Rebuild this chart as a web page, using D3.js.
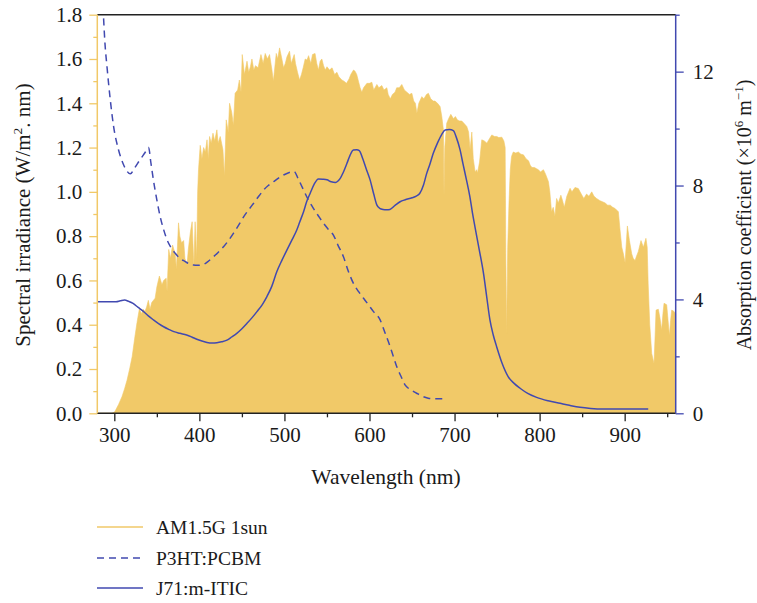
<!DOCTYPE html>
<html><head><meta charset="utf-8">
<script src="https://cdn.jsdelivr.net/npm/d3@7"></script>
<style>
html,body{margin:0;padding:0;background:#fff;}
svg text{font-family:"Liberation Serif","DejaVu Serif",serif !important;fill:#1a1a1a;}
</style></head>
<body><svg id="c" width="757" height="603"></svg>
<script>
// ---- data ----
const amWavelength = [280,290,297,300,301,305,309,312,315,318,321,324,326.7,329.4,332,334,336,338,340,342,344,348,350,353,356,358,361,362,364,366,368.5,371.5,373,375.5,377,379,381.5,383,385.5,387,389.5,391.5,393.5,395,396.8,398,399,401,403,405,407,409,410.5,412,414,416,418,420.6,422,424.5,427.7,429.5,431.6,434,435.5,438,440,442,445,447,449,450.4,453,456,458,460,461.8,464,466,469,472.4,475,477.4,480,482.5,485.3,487,490.4,492,494.3,497,499,501,503,506,508,511.5,513,515.4,517.8,520,522,524.4,526.5,528.4,531,533,536,538,540,542,544,546,548,550,553,556,559,561.7,564,567.5,570,573,576,578,581.2,583,585,587,589,591,593,595,597,600,602.8,605,608.7,611,614.5,617,620.4,622,624.5,627,630,632,635,638,641,644,647,649.8,652,654,655.7,658,661.5,664,667,669.3,672,675,677,680,683,685,686.9,687.6,688.5,690.8,693,695.6,698.8,701,703.4,706,708.5,711,714.4,716.5,718.3,720.3,722,724.2,726,727,729.4,732,735,738,741,743.8,747,749.7,752,755.6,758,759.5,760.3,761.2,762.5,764,765.5,767,769,772,775,778,781,784,787,789,791,794,796,798.6,801,804.5,807,810.4,812,814,816,818,820,822,825,827,829,832,835.8,838,841.6,845.5,849.6,852,855.2,858,861.3,864,867,871,874,877,880,883,886,888.7,892.6,894.5,896.6,898.5,900.5,903.2,905.6,908.3,910,912.2,914,916,919.2,922,925,926.5,927.6,929.5,931.8,934.5,935.8,936.9,939.6,941.5,943.5,945,946.3,949.4,951,952.6,954,955.3,958,960];
const amIrradiance = [0,0,0,0.005,0.01,0.04,0.075,0.11,0.15,0.20,0.256,0.34,0.41,0.47,0.45,0.47,0.46,0.48,0.51,0.47,0.50,0.52,0.57,0.62,0.58,0.60,0.61,0.55,0.74,0.70,0.76,0.72,0.65,0.86,0.80,0.77,0.78,0.70,0.67,0.74,0.82,0.865,0.66,0.865,0.70,1.00,1.10,1.21,1.15,1.20,1.18,1.235,1.15,1.25,1.22,1.265,1.23,1.28,1.22,1.25,1.19,1.07,1.325,1.27,1.40,1.36,1.30,1.445,1.46,1.505,1.45,1.62,1.53,1.59,1.54,1.565,1.60,1.55,1.57,1.56,1.62,1.58,1.625,1.60,1.62,1.55,1.50,1.625,1.60,1.65,1.60,1.56,1.58,1.61,1.635,1.58,1.62,1.58,1.54,1.505,1.53,1.56,1.60,1.595,1.615,1.58,1.62,1.625,1.58,1.55,1.59,1.60,1.57,1.55,1.565,1.55,1.56,1.53,1.54,1.52,1.505,1.50,1.49,1.51,1.53,1.55,1.545,1.53,1.50,1.47,1.45,1.47,1.48,1.49,1.49,1.495,1.46,1.485,1.47,1.48,1.46,1.47,1.44,1.42,1.44,1.45,1.47,1.47,1.485,1.46,1.45,1.44,1.445,1.41,1.40,1.355,1.40,1.43,1.42,1.44,1.445,1.42,1.41,1.41,1.40,1.385,1.34,1.28,0.98,1.20,1.31,1.33,1.35,1.33,1.34,1.325,1.32,1.32,1.31,1.295,1.27,1.19,1.27,1.15,1.09,1.10,1.085,1.135,1.235,1.23,1.22,1.24,1.257,1.25,1.25,1.245,1.247,1.23,1.20,0.70,0.36,0.75,0.95,1.10,1.16,1.18,1.175,1.18,1.17,1.167,1.15,1.14,1.12,1.11,1.11,1.105,1.10,1.09,1.10,1.08,1.046,1.00,0.91,0.93,0.89,0.97,0.95,0.985,0.96,0.93,0.98,1.016,1.00,1.02,1.015,0.986,0.97,0.99,0.98,1.00,0.98,0.97,0.96,0.955,0.95,0.94,0.94,0.93,0.925,0.91,0.83,0.75,0.72,0.68,0.846,0.78,0.72,0.70,0.69,0.71,0.73,0.78,0.75,0.79,0.75,0.587,0.40,0.27,0.225,0.35,0.466,0.47,0.43,0.376,0.45,0.497,0.49,0.42,0.35,0.42,0.466,0.46,0.45];

const p3htWavelength = [287.4,289,291.4,295.3,299.2,305,311,315,318.8,324,330.5,336,340.3,343,346,350,354,358,362,366,371.6,377,383.4,388,393,398,404.9,410,416.6,422,428.4,434,440,446,452,458,463.8,470,475.5,481,487,493,499,505,511.5,516,522.5,528,534,540,546,552,557.6,563,569.4,575,581,587,593,599,604.7,612.5,618,624.3,628,632,637,642,647,652,657,663.5,669,675,687];
const p3htAbsorption = [13.87,13.0,12.17,11.0,10.07,9.25,8.72,8.5,8.41,8.62,8.92,9.15,9.34,8.8,8.19,7.5,6.9,6.45,6.09,5.85,5.62,5.45,5.33,5.25,5.21,5.2,5.23,5.33,5.5,5.65,5.85,6.06,6.32,6.6,6.9,7.15,7.38,7.63,7.84,8.0,8.13,8.26,8.37,8.45,8.49,8.25,7.84,7.5,7.2,6.93,6.67,6.45,6.26,5.9,5.5,5.0,4.57,4.28,4.04,3.8,3.57,3.28,2.85,2.34,2.0,1.64,1.3,0.99,0.85,0.76,0.68,0.58,0.53,0.51,0.51];

const j71Wavelength = [280,302,307,312,317,322,328,334.5,340,346,352,358,364,370,377,385,391,397,403,409,415,420.6,426,432.4,438,444,450,456,462,467.7,474,479.4,485,491,497,503,509,514.5,518,522.5,526,530.3,535,540,545,550,555,560,563,565.6,569,573.5,577,581,585,588,592,596,600.8,605,608.6,612,616,620,624,630,636,642,650,655,659,663.5,667,671,675,680,685,689,694,698.6,702,706.5,710,714,718,721,724,729,734,738,741.6,745.5,749.5,756,763,770,777,786,796.5,810,824,835,847.5,860,874.8,900,927.7];
const j71Absorption = [3.92,3.92,3.95,3.98,3.93,3.86,3.72,3.57,3.42,3.28,3.15,3.04,2.95,2.87,2.81,2.75,2.68,2.6,2.54,2.49,2.47,2.48,2.51,2.57,2.68,2.81,2.97,3.16,3.36,3.57,3.82,4.1,4.45,4.97,5.37,5.74,6.1,6.44,6.72,7.08,7.42,7.73,8.05,8.23,8.22,8.2,8.13,8.11,8.16,8.25,8.45,8.78,9.05,9.25,9.26,9.23,8.95,8.6,8.19,7.7,7.32,7.2,7.16,7.15,7.16,7.3,7.43,7.5,7.57,7.63,7.72,8.02,8.4,8.75,9.13,9.5,9.8,9.95,9.97,9.93,9.7,9.25,8.75,8.2,7.61,7.05,6.55,5.75,4.92,4.05,3.28,2.75,2.34,1.75,1.29,1.05,0.88,0.7,0.56,0.44,0.35,0.28,0.21,0.17,0.15,0.15,0.15];

const xMajorTicks = [300,400,500,600,700,800,900];
const xMinorTicks = [350,450,550,650,750,850,950];
const yLeftMajor = [0,0.2,0.4,0.6,0.8,1.0,1.2,1.4,1.6,1.8];
const yLeftMinor = [0.1,0.3,0.5,0.7,0.9,1.1,1.3,1.5,1.7];
const yRightMajor = [0,4,8,12];
const yRightMinor = [2,6,10,14];
const legendLabels = ["AM1.5G 1sun","P3HT:PCBM","J71:m-ITIC"];

// ---- styles ----
const FONT = '"Liberation Serif","DejaVu Serif",serif';
const YEL = "#f1c968", BLUE = "#4149b0";
const L = 97.3, R = 675.7, T = 14.7, B = 413.3;

const svg = d3.select("#c");
const x = d3.scaleLinear().domain([280,960]).range([L,R]);
const yL = d3.scaleLinear().domain([0,1.8]).range([B,T]);
const yR = d3.scaleLinear().domain([0,14]).range([B,T]);

const am = amWavelength.map((w,i)=>[w,amIrradiance[i]]);
const p3 = p3htWavelength.map((w,i)=>[w,p3htAbsorption[i]]);
const j7 = j71Wavelength.map((w,i)=>[w,j71Absorption[i]]);

svg.append("path").datum(am)
  .attr("d", d3.area().x(d=>x(d[0])).y0(B).y1(d=>yL(d[1])))
  .attr("fill", YEL).attr("stroke", YEL).attr("stroke-width",0.6);

svg.append("path").datum(p3)
  .attr("d", d3.line().x(d=>x(d[0])).y(d=>yR(d[1])).curve(d3.curveMonotoneX))
  .attr("fill","none").attr("stroke",BLUE).attr("stroke-width",1.5).attr("stroke-dasharray","7,5");

svg.append("path").datum(j7)
  .attr("d", d3.line().x(d=>x(d[0])).y(d=>yR(d[1])).curve(d3.curveMonotoneX))
  .attr("fill","none").attr("stroke",BLUE).attr("stroke-width",1.5);

// ---- axes ----
const fs = 21;
function styleAxis(g, color){
  g.attr("font-family", FONT);
  g.select(".domain").remove();
  g.selectAll(".tick line").attr("stroke",color).attr("stroke-width",1.3);
  g.selectAll(".tick text").attr("font-size",fs).attr("fill","#1a1a1a").attr("font-family",FONT);
}
const gx = svg.append("g").attr("transform",`translate(0,${B})`)
  .call(d3.axisBottom(x).tickValues(xMajorTicks).tickSize(8).tickPadding(6).tickFormat(d3.format("d")));
styleAxis(gx,"#222");
const gx2 = svg.append("g").attr("transform",`translate(0,${B})`)
  .call(d3.axisBottom(x).tickValues(xMinorTicks).tickSize(4).tickFormat(""));
styleAxis(gx2,"#222");
const gy = svg.append("g").attr("transform",`translate(${L},0)`)
  .call(d3.axisLeft(yL).tickValues(yLeftMajor).tickSize(8).tickPadding(7).tickFormat(d3.format(".1f")));
styleAxis(gy,YEL);
const gy2 = svg.append("g").attr("transform",`translate(${L},0)`)
  .call(d3.axisLeft(yL).tickValues(yLeftMinor).tickSize(4).tickFormat(""));
styleAxis(gy2,YEL);
const gr = svg.append("g").attr("transform",`translate(${R},0)`)
  .call(d3.axisRight(yR).tickValues(yRightMajor).tickSize(8).tickPadding(9).tickFormat(d3.format("d")));
styleAxis(gr,BLUE);
const gr2 = svg.append("g").attr("transform",`translate(${R},0)`)
  .call(d3.axisRight(yR).tickValues(yRightMinor).tickSize(4).tickFormat(""));
styleAxis(gr2,BLUE);

svg.append("line").attr("x1",L).attr("x2",R).attr("y1",T).attr("y2",T).attr("stroke","#222").attr("stroke-width",1.5);
svg.append("line").attr("x1",L).attr("x2",R).attr("y1",B).attr("y2",B).attr("stroke","#222").attr("stroke-width",1.5);
svg.append("line").attr("x1",L).attr("x2",L).attr("y1",T).attr("y2",B).attr("stroke",YEL).attr("stroke-width",1.5);
svg.append("line").attr("x1",R).attr("x2",R).attr("y1",T).attr("y2",B).attr("stroke",BLUE).attr("stroke-width",1.5);

// ---- titles ----
svg.append("text").attr("x",386).attr("y",484).attr("text-anchor","middle").attr("font-size",21.5)
  .attr("font-family",FONT).text("Wavelength (nm)");

const lt = svg.append("text").attr("transform","translate(30,215) rotate(-90)")
  .attr("text-anchor","middle").attr("font-size",21).attr("font-family",FONT);
lt.append("tspan").text("Spectral irradiance (W/m");
lt.append("tspan").attr("font-size",13.5).attr("dy",-8).text("2");
lt.append("tspan").attr("dy",8).text(". nm)");

const rt = svg.append("text").attr("transform","translate(751,215) rotate(-90)")
  .attr("text-anchor","middle").attr("font-size",20).attr("font-family",FONT);
rt.append("tspan").text("Absorption coefficient (×10");
rt.append("tspan").attr("font-size",13).attr("dy",-8).text("6");
rt.append("tspan").attr("dy",8).text(" m");
rt.append("tspan").attr("font-size",13).attr("dy",-8).text("−1");
rt.append("tspan").attr("dy",8).text(")");

// ---- legend ----
const legStyles = [
  {stroke:YEL, dash:null},
  {stroke:BLUE, dash:"7,5"},
  {stroke:BLUE, dash:null}
];
const legY = [527, 558, 588];
legendLabels.forEach((lab,i)=>{
  svg.append("line").attr("x1",97).attr("x2",143).attr("y1",legY[i]).attr("y2",legY[i])
    .attr("stroke",legStyles[i].stroke).attr("stroke-width",1.5)
    .attr("stroke-dasharray",legStyles[i].dash);
  svg.append("text").attr("x",156).attr("y",legY[i]+7).attr("font-size",19.5)
    .attr("font-family",FONT).text(lab);
});
</script></body></html>
